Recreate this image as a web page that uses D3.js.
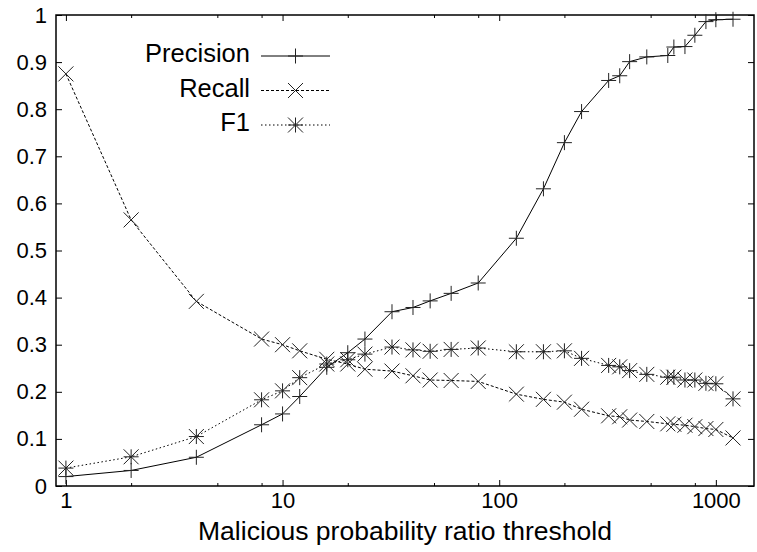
<!DOCTYPE html>
<html>
<head>
<meta charset="utf-8">
<script src="https://cdn.jsdelivr.net/npm/d3@7/dist/d3.min.js"></script>
<style>
  html, body { margin: 0; padding: 0; background: #fff; }
  svg { display: block; }
  text { font-family: "Liberation Sans", Arial, Helvetica, sans-serif; fill: #000; }
</style>
</head>
<body>
<svg id="chart" width="757" height="552"></svg>
<script>
// Thresholds (x) and the three metrics measured at each threshold
const thresholds = [1, 2, 4, 8, 10, 12, 16, 20, 24, 32, 40, 48, 60, 80, 120, 160, 200, 240,
                    320, 360, 400, 480, 600, 640, 720, 800, 900, 1000, 1200];
const precision = [0.020, 0.033, 0.061, 0.130, 0.153, 0.190, 0.252, 0.283, 0.312, 0.370, 0.379,
                   0.393, 0.409, 0.431, 0.526, 0.631, 0.729, 0.795, 0.861, 0.871, 0.901, 0.911,
                   0.914, 0.932, 0.933, 0.957, 0.986, 0.990, 0.991];
const recall = [0.875, 0.565, 0.392, 0.312, 0.300, 0.287, 0.269, 0.259, 0.248, 0.244, 0.234,
                0.225, 0.224, 0.222, 0.195, 0.184, 0.178, 0.163, 0.149, 0.147, 0.140, 0.137,
                0.132, 0.131, 0.129, 0.126, 0.122, 0.120, 0.102];
const f1 = [0.038, 0.062, 0.105, 0.183, 0.202, 0.230, 0.259, 0.268, 0.280, 0.295, 0.289,
            0.286, 0.290, 0.293, 0.285, 0.285, 0.287, 0.271, 0.256, 0.253, 0.245, 0.237,
            0.231, 0.231, 0.225, 0.225, 0.218, 0.217, 0.185];

const xMajorTicks = [1, 10, 100, 1000];
const xMinorTicks = [2, 5, 8, 20, 50, 80, 200, 500, 800];
const yTicks = [0, 0.1, 0.2, 0.3, 0.4, 0.5, 0.6, 0.7, 0.8, 0.9, 1];
const xTitle = "Malicious probability ratio threshold";

const series = [
  { name: "Precision", values: precision, dash: null, marker: "plus" },
  { name: "Recall", values: recall, dash: "3,2", marker: "cross" },
  { name: "F1", values: f1, dash: "1.5,2.5", marker: "star" }
];

const svg = d3.select("#chart");
const plotLeft = 56, plotRight = 754, plotTop = 15, plotBottom = 486;

const x = d3.scaleLog().domain([0.9, 1500]).range([plotLeft, plotRight]);
const y = d3.scaleLinear().domain([0, 1]).range([plotBottom, plotTop]);

const tickFont = "22px";
const majorLen = 6, minorLen = 3;

function styleAxis(g) {
  g.select(".domain").remove();
  g.selectAll(".tick line").attr("stroke", "#000").attr("stroke-width", 1);
}

// Bottom axis with labels, plus mirrored ticks on top
svg.append("g").attr("transform", `translate(0,${plotBottom})`)
  .call(d3.axisBottom(x).tickValues(xMajorTicks).tickFormat(d3.format("d"))
    .tickSizeInner(-majorLen).tickSizeOuter(0).tickPadding(6))
  .call(styleAxis)
  .call(g => g.selectAll("text").style("font-size", tickFont).attr("fill", "#000"));
svg.append("g").attr("transform", `translate(0,${plotBottom})`)
  .call(d3.axisBottom(x).tickValues(xMinorTicks).tickFormat("").tickSizeInner(-minorLen).tickSizeOuter(0))
  .call(styleAxis);
svg.append("g").attr("transform", `translate(0,${plotTop})`)
  .call(d3.axisTop(x).tickValues(xMajorTicks).tickFormat("").tickSizeInner(-majorLen).tickSizeOuter(0))
  .call(styleAxis);
svg.append("g").attr("transform", `translate(0,${plotTop})`)
  .call(d3.axisTop(x).tickValues(xMinorTicks).tickFormat("").tickSizeInner(-minorLen).tickSizeOuter(0))
  .call(styleAxis);

// Left axis with labels, mirrored ticks on the right
svg.append("g").attr("transform", `translate(${plotLeft},0)`)
  .call(d3.axisLeft(y).tickValues(yTicks).tickFormat(d => d3.format("")(+d.toFixed(1)))
    .tickSizeInner(-majorLen).tickSizeOuter(0).tickPadding(9))
  .call(styleAxis)
  .call(g => g.selectAll("text").style("font-size", tickFont).attr("fill", "#000"));
svg.append("g").attr("transform", `translate(${plotRight},0)`)
  .call(d3.axisRight(y).tickValues(yTicks).tickFormat("").tickSizeInner(-majorLen).tickSizeOuter(0))
  .call(styleAxis);

// Plot frame
svg.append("rect")
  .attr("x", plotLeft).attr("y", plotTop)
  .attr("width", plotRight - plotLeft).attr("height", plotBottom - plotTop)
  .attr("fill", "none").attr("stroke", "#000").attr("stroke-width", 1.5);

// Axis title
svg.append("text")
  .attr("x", 405).attr("y", 540)
  .attr("text-anchor", "middle")
  .style("font-size", "26.5px")
  .text(xTitle);

// Marker shapes
const R = 7.5;
function markerPath(type) {
  const plus = `M${-R},0H${R}M0,${-R}V${R}`;
  const cross = `M${-R},${-R}L${R},${R}M${-R},${R}L${R},${-R}`;
  if (type === "plus") return plus;
  if (type === "cross") return cross;
  return plus + cross;
}

const line = d3.line().x(d => x(d[0])).y(d => y(d[1]));

series.forEach(s => {
  const pts = thresholds.map((t, i) => [t, s.values[i]]);
  svg.append("path")
    .datum(pts)
    .attr("d", line)
    .attr("fill", "none")
    .attr("stroke", "#000")
    .attr("stroke-width", 1)
    .attr("stroke-dasharray", s.dash);
  svg.append("g").selectAll("path")
    .data(pts)
    .join("path")
    .attr("transform", d => `translate(${x(d[0])},${y(d[1])})`)
    .attr("d", markerPath(s.marker))
    .attr("fill", "none")
    .attr("stroke", "#222")
    .attr("stroke-width", 1);
});

// Legend
const legend = svg.append("g");
series.forEach((s, i) => {
  const base = 62 + i * 34.5;
  const ly = base - 6;
  legend.append("text")
    .attr("x", 250).attr("y", base)
    .attr("text-anchor", "end")
    .style("font-size", "25.5px")
    .text(s.name);
  legend.append("line")
    .attr("x1", 261).attr("x2", 330)
    .attr("y1", ly).attr("y2", ly)
    .attr("stroke", "#000").attr("stroke-width", 1)
    .attr("stroke-dasharray", s.dash);
  legend.append("path")
    .attr("transform", `translate(295.5,${ly})`)
    .attr("d", markerPath(s.marker))
    .attr("fill", "none").attr("stroke", "#222").attr("stroke-width", 1);
});
</script>
</body>
</html>
